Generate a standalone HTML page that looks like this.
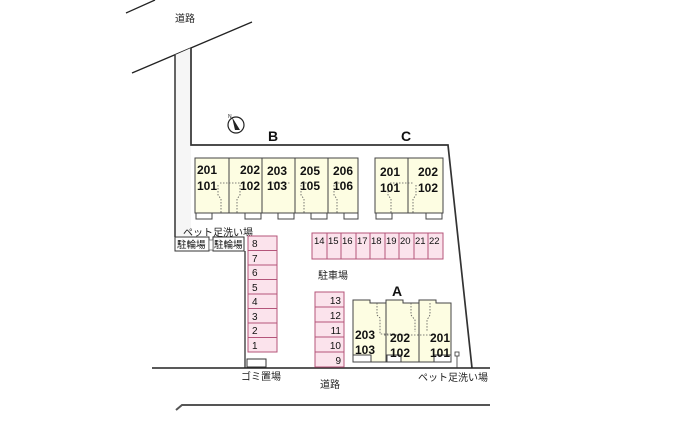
<!DOCTYPE html>
<html><head><meta charset="utf-8"><style>
html,body{margin:0;padding:0;background:#fff;}
svg{display:block;}
text{font-family:"Liberation Sans","Noto Sans CJK JP",sans-serif;}
</style></head><body>
<svg width="700" height="423" viewBox="0 0 700 423" xmlns="http://www.w3.org/2000/svg">
<line x1="126" y1="13" x2="155" y2="0" stroke="#222" stroke-width="1.3"/>
<line x1="132" y1="73" x2="252" y2="22" stroke="#222" stroke-width="1.3"/>
<text x="175" y="22" font-size="10" fill="#222">道路</text>
<polygon points="175,55 191,48 191,236 175,236" fill="#f6f6f6"/>
<line x1="175" y1="55" x2="175" y2="237" stroke="#333" stroke-width="1.5"/>
<polyline points="191,48 191,145 448,145 472,368" fill="none" stroke="#333" stroke-width="1.7"/>
<line x1="245" y1="251" x2="245" y2="368" stroke="#333" stroke-width="1.3"/>
<line x1="152" y1="368" x2="490" y2="368" stroke="#222" stroke-width="1.6"/>
<polyline points="176,410 182,405 490,405" fill="none" stroke="#555" stroke-width="2"/>
<text x="320" y="388" font-size="10" fill="#222">道路</text>
<circle cx="236" cy="125" r="8" fill="#fff" stroke="#222" stroke-width="1.2"/>
<polygon points="232,117 240,130 235,130" fill="#222"/>
<text x="228" y="118" font-size="5" fill="#222">N</text>
<text x="268" y="141" font-size="14" font-weight="bold" fill="#111">B</text>
<text x="401" y="141" font-size="14" font-weight="bold" fill="#111">C</text>
<text x="392" y="296" font-size="14" font-weight="bold" fill="#111">A</text>
<g stroke="#444" stroke-width="1">
<rect x="195" y="158" width="163" height="55" fill="#fdfde2"/>
<line x1="229" y1="158" x2="229" y2="213"/><line x1="262" y1="158" x2="262" y2="213"/>
<line x1="295" y1="158" x2="295" y2="213"/><line x1="328" y1="158" x2="328" y2="213"/>
<rect x="196" y="213" width="16" height="6" fill="#fff"/><rect x="245" y="213" width="16" height="6" fill="#fff"/>
<rect x="278" y="213" width="16" height="6" fill="#fff"/><rect x="311" y="213" width="16" height="6" fill="#fff"/>
<rect x="344" y="213" width="14" height="6" fill="#fff"/>
<rect x="375" y="158" width="68" height="55" fill="#fdfde2"/>
<line x1="408" y1="158" x2="408" y2="213"/>
<rect x="376" y="213" width="16" height="6" fill="#fff"/><rect x="426" y="213" width="16" height="6" fill="#fff"/>
</g>
<g stroke="#555" stroke-width="0.8" stroke-dasharray="1.5,1.5" fill="none">
<path d="M220,183 H245 M218,185 V195 L221,199 V213 M240,185 V195 L237,199 V213"/>
<path d="M270,183 H290 M302,183 H312 M301,185 V195 L304,199 V213 M335,183 H345 M334,185 V195 L337,199 V213"/>
<path d="M390,183 H413 M388,185 V195 L391,199 V213 M416,185 V195 L413,199 V213"/>
</g>
<g font-size="12" font-weight="bold" fill="#111">
<text x="197" y="174">201</text><text x="197" y="190">101</text>
<text x="240" y="174">202</text><text x="240" y="190">102</text>
<text x="267" y="175">203</text><text x="267" y="190">103</text>
<text x="300" y="175">205</text><text x="300" y="190">105</text>
<text x="333" y="175">206</text><text x="333" y="190">106</text>
<text x="380" y="176">201</text><text x="380" y="192">101</text>
<text x="418" y="176">202</text><text x="418" y="192">102</text>
</g>
<text x="183" y="236" font-size="10" fill="#222">ペット足洗い場</text>
<rect x="175" y="237" width="34" height="14" fill="#fff" stroke="#333"/>
<rect x="213" y="237" width="31" height="14" fill="#fff" stroke="#333"/>
<rect x="209" y="240" width="4" height="10" fill="#fff" stroke="#555" stroke-width="0.7"/>
<text x="177" y="248" font-size="9.5" fill="#111">駐輪場</text>
<text x="214" y="248" font-size="9.5" fill="#111">駐輪場</text>
<g stroke="#b4557a" stroke-width="1" fill="#fbe3ec">
<rect x="248" y="236" width="29" height="14.5"/><rect x="248" y="250.5" width="29" height="14.5"/>
<rect x="248" y="265" width="29" height="14.5"/><rect x="248" y="279.5" width="29" height="14.5"/>
<rect x="248" y="294" width="29" height="14.5"/><rect x="248" y="308.5" width="29" height="14.5"/>
<rect x="248" y="323" width="29" height="14.5"/><rect x="248" y="337.5" width="29" height="14.5"/>
</g>
<g font-size="10" fill="#111">
<text x="252" y="247">8</text><text x="252" y="262">7</text><text x="252" y="276">6</text><text x="252" y="291">5</text>
<text x="252" y="305">4</text><text x="252" y="320">3</text><text x="252" y="334">2</text><text x="252" y="349">1</text>
</g>
<g stroke="#b4557a" stroke-width="1" fill="#fbe3ec">
<rect x="312" y="233" width="131" height="26"/>
</g>
<g stroke="#b4557a" stroke-width="1">
<line x1="327" y1="233" x2="327" y2="259"/><line x1="341" y1="233" x2="341" y2="259"/><line x1="356" y1="233" x2="356" y2="259"/>
<line x1="370" y1="233" x2="370" y2="259"/><line x1="385" y1="233" x2="385" y2="259"/><line x1="399" y1="233" x2="399" y2="259"/>
<line x1="414" y1="233" x2="414" y2="259"/><line x1="428" y1="233" x2="428" y2="259"/>
</g>
<g font-size="9.5" fill="#111">
<text x="314" y="244">14</text><text x="328" y="244">15</text><text x="342" y="244">16</text><text x="357" y="244">17</text>
<text x="371" y="244">18</text><text x="386" y="244">19</text><text x="400" y="244">20</text><text x="415" y="244">21</text><text x="429" y="244">22</text>
</g>
<text x="318" y="279" font-size="10" fill="#222">駐車場</text>
<g stroke="#b4557a" stroke-width="1" fill="#fbe3ec">
<rect x="315" y="292" width="29" height="15"/><rect x="315" y="307" width="29" height="15"/>
<rect x="315" y="322" width="29" height="15"/><rect x="315" y="337" width="29" height="15"/>
<rect x="315" y="352" width="29" height="15"/>
</g>
<g font-size="10" fill="#111" text-anchor="end">
<text x="341" y="304">13</text><text x="341" y="319">12</text><text x="341" y="334">11</text><text x="341" y="349">10</text><text x="341" y="364">9</text>
</g>
<g stroke="#444" stroke-width="1">
<polygon points="353,300 370,300 370,303 386,303 386,300 403,300 403,303 419,303 419,300 436,300 436,303 451,303 451,362 353,362" fill="#fdfde2"/>
<line x1="386" y1="300" x2="386" y2="362"/><line x1="419" y1="300" x2="419" y2="362"/>
<rect x="353" y="355" width="18" height="7" fill="#fff"/><rect x="387" y="355" width="14" height="7" fill="#fff"/>
<rect x="434" y="355" width="17" height="7" fill="#fff"/>
</g>
<g stroke="#555" stroke-width="0.8" stroke-dasharray="1.5,1.5" fill="none">
<path d="M377,303 V315 L380,318 V334 H395 M411,303 V315 L415,320 V332 M384,335 H434 M430,303 V315 L427,320 V332"/>
</g>
<g font-size="12" font-weight="bold" fill="#111">
<text x="355" y="339">203</text><text x="355" y="354">103</text>
<text x="390" y="342">202</text><text x="390" y="357">102</text>
<text x="430" y="342">201</text><text x="430" y="357">101</text>
</g>
<rect x="455" y="352" width="4" height="4" fill="#fff" stroke="#333" stroke-width="0.8"/>
<line x1="457" y1="356" x2="457" y2="368" stroke="#333" stroke-width="0.8"/>
<text x="418" y="381" font-size="10" fill="#222">ペット足洗い場</text>
<rect x="247" y="359" width="19" height="8" fill="#fff" stroke="#333"/>
<text x="241" y="380" font-size="10" fill="#222">ゴミ置場</text>
</svg>
</body></html>
